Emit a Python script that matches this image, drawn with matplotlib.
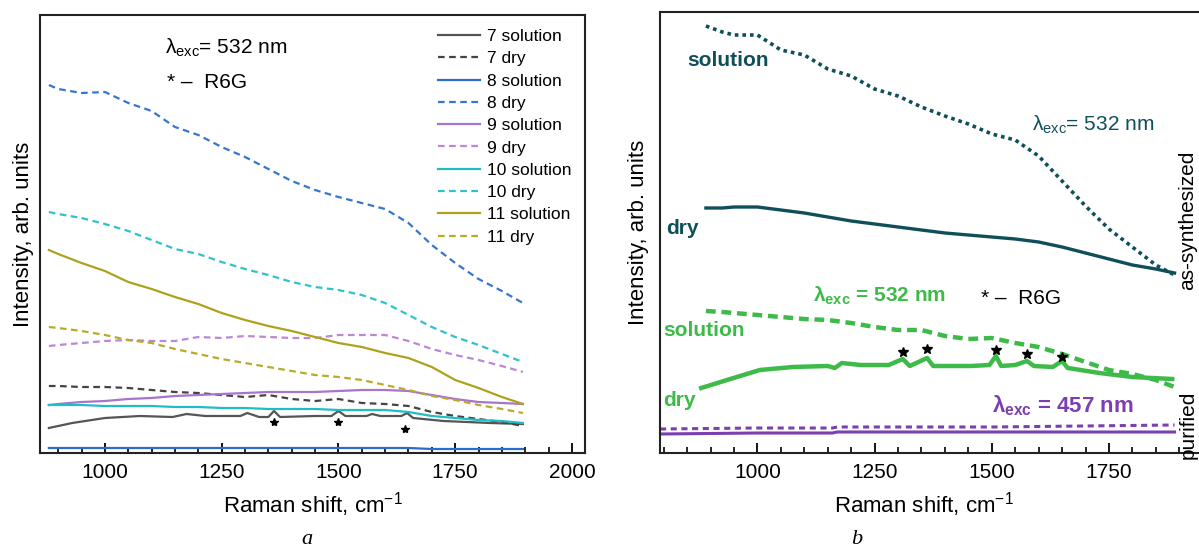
import numpy as np
import matplotlib
matplotlib.use("Agg")
import matplotlib.pyplot as plt
from matplotlib.ticker import MultipleLocator

plt.rcParams['font.family'] = ['Liberation Sans', 'DejaVu Sans']
plt.rcParams['mathtext.fontset'] = 'custom'
plt.rcParams['mathtext.rm'] = 'Liberation Sans'
plt.rcParams['mathtext.it'] = 'Liberation Sans:italic'
plt.rcParams['mathtext.bf'] = 'Liberation Sans:bold'

############################################################
# Panel a data (intensity in arbitrary units)
############################################################

shift_a = [880, 900, 950, 1000, 1050, 1100, 1150, 1200, 1250, 1300, 1350,
           1400, 1450, 1500, 1550, 1600, 1650, 1700, 1750, 1800, 1850, 1895]

dry_7 = [67, 67, 66, 66, 65, 63, 61, 60, 58, 56, 58,
         54, 52, 54, 50, 49, 47, 41, 37, 34, 31, 27]
sol_8 = [5, 5, 5, 5, 5, 5, 5, 5, 5, 5, 5,
         5, 5, 5, 5, 5, 5, 4, 4, 4, 4, 4]
dry_8 = [368, 364, 360, 361, 350, 342, 326, 318, 306, 296, 284,
         272, 263, 256, 250, 244, 230, 208, 190, 174, 162, 150]
sol_9 = [48, 49, 51, 52, 54, 55, 57, 58, 59, 60, 61,
         61, 61, 62, 63, 63, 62, 58, 54, 51, 50, 49]
dry_9 = [107, 108, 110, 112, 113, 112, 112, 116, 115, 117, 116,
         115, 115, 118, 118, 118, 112, 104, 98, 93, 87, 81]
sol_10 = [48, 48, 48, 47, 47, 47, 46, 46, 45, 45, 44,
          44, 44, 43, 43, 43, 41, 37, 35, 33, 32, 30]
dry_10 = [241, 239, 235, 229, 222, 213, 204, 199, 191, 184, 178,
          171, 166, 163, 158, 150, 138, 126, 116, 108, 99, 91]
sol_11 = [203, 199, 190, 182, 171, 164, 156, 149, 140, 133, 127,
          122, 116, 110, 106, 100, 95, 86, 73, 65, 56, 49]
dry_11 = [126, 125, 122, 118, 113, 110, 104, 99, 94, 90, 86,
          82, 78, 76, 73, 68, 63, 57, 53, 48, 44, 40]

# sample 7 in solution shows the R6G peaks
shift_7 = [880, 930, 1000, 1075, 1145, 1175, 1215, 1290, 1305, 1330, 1350, 1362, 1375,
           1450, 1485, 1500, 1515, 1560, 1572, 1590, 1635, 1647, 1660, 1725, 1825, 1895]
sol_7 = [25, 30, 35, 37, 36, 39, 37, 37, 40, 36, 36, 42, 36,
         37, 37, 42, 37, 37, 39, 37, 37, 40, 35, 32, 30, 29]

star_a_x = [1362, 1500, 1642]
star_a_y = [31, 31, 24]

############################################################
# Panel b data
############################################################

shift_b = [890, 925, 950, 1000, 1050, 1100, 1150, 1200, 1250, 1300, 1350,
           1400, 1450, 1500, 1550, 1600, 1650, 1700, 1750, 1800, 1850, 1890]

asyn_solution = [427, 421, 418, 418, 403, 398, 384, 377, 364, 357, 346,
                 337, 329, 319, 313, 297, 272, 247, 224, 206, 188, 178]
asyn_dry = [245, 245, 246, 246, 243, 240, 236, 232, 229, 226, 223,
            220, 218, 216, 214, 211, 206, 200, 194, 188, 184, 180]
pur_solution = [142, 141, 140, 138, 136, 134, 133, 130, 126, 123, 123,
                117, 114, 115, 110, 106, 99, 91, 83, 79, 73, 66]

shift_pur_dry = [880, 935, 1005, 1075, 1150, 1165, 1180, 1220, 1280, 1310, 1325, 1362, 1375,
                 1455, 1495, 1509, 1520, 1550, 1575, 1590, 1630, 1650, 1662, 1730, 1800, 1885]
pur_dry = [65, 73, 83, 86, 87, 85, 90, 88, 88, 94, 87, 95, 87,
           87, 88, 97, 87, 88, 92, 87, 86, 92, 85, 80, 76, 74]

shift_457 = [792, 1000, 1160, 1170, 1500, 1890]
sol_457 = [24, 25, 25, 26, 26, 28]
dry_457 = [19, 20, 20, 21, 21, 21]

star_b_x = [1310, 1362, 1509, 1575, 1650]
star_b_y = [101, 104, 103, 99, 96]

############################################################
# Plot
############################################################

fig = plt.figure(figsize=(11.99, 5.5), dpi=100)
ax1 = fig.add_axes([40 / 1199, 97 / 550, 545 / 1199, 438 / 550])
ax2 = fig.add_axes([660 / 1199, 97 / 550, 545 / 1199, 441 / 550])

dash = (0, (3, 2))
lw = 1.6
ax1.plot(shift_7, sol_7, color='#555555', lw=lw, label='7 solution')
ax1.plot(shift_a, dry_7, color='#444444', lw=lw, ls=dash, label='7 dry')
ax1.plot(shift_a, sol_8, color='#2b6dc9', lw=lw, label='8 solution')
ax1.plot(shift_a, dry_8, color='#3577d0', lw=lw, ls=dash, label='8 dry')
ax1.plot(shift_a, sol_9, color='#a874cc', lw=lw, label='9 solution')
ax1.plot(shift_a, dry_9, color='#bd86d6', lw=lw, ls=dash, label='9 dry')
ax1.plot(shift_a, sol_10, color='#22bcc4', lw=lw, label='10 solution')
ax1.plot(shift_a, dry_10, color='#2ec2cc', lw=lw, ls=dash, label='10 dry')
ax1.plot(shift_a, sol_11, color='#aea21c', lw=lw, label='11 solution')
ax1.plot(shift_a, dry_11, color='#b9aa2a', lw=lw, ls=dash, label='11 dry')
ax1.plot(star_a_x, star_a_y, ls='none', marker='*', ms=6, color='black')

ax1.legend(loc='upper left', bbox_to_anchor=(398 / 545, 0.968), frameon=False,
           fontsize=12.5, handlelength=2.4, handletextpad=0.4, labelspacing=0.41,
           borderpad=0, borderaxespad=0)

ax1.text(1129, 405, r'$\mathrm{λ_{exc}}$= 532 nm', fontsize=15, va='center')
ax1.text(1133, 371, '* \u2013  R6G', fontsize=15, va='center')

ax1.set_xlim(861, 2028)
ax1.set_ylim(0, 438)
ax1.xaxis.set_major_locator(MultipleLocator(250))
ax1.xaxis.set_minor_locator(MultipleLocator(50))
ax1.set_xlabel('Raman shift, cm$^{-1}$', fontsize=16, labelpad=6)
ax1.set_ylabel('Intensity, arb. units', fontsize=16, labelpad=4)

teal = '#0e4f5a'
green = '#3dba48'
purple = '#7b3fb0'

ax2.plot(shift_b, asyn_solution, color=teal, lw=2.6, ls=(0, (1, 1.1)))
ax2.plot(shift_b, asyn_dry, color=teal, lw=2.4)
ax2.plot(shift_b, pur_solution, color=green, lw=3.2, ls=(0, (2.2, 1.3)))
ax2.plot(shift_pur_dry, pur_dry, color=green, lw=3.2)
ax2.plot(shift_457, sol_457, color=purple, lw=2.2, ls=(0, (2, 1.5)))
ax2.plot(shift_457, dry_457, color=purple, lw=2.2)
ax2.plot(star_b_x, star_b_y, ls='none', marker='*', ms=7, color='black')

# texts of panel b placed by pixel column, converted to data units below
ax2.text(687, 393, 'solution', color=teal, fontsize=15, fontweight='bold', va='center')
ax2.text(1030, 328, r'$\mathrm{λ_{exc}}$= 532 nm', color=teal, fontsize=15, va='center')
ax2.text(666, 225, 'dry', color=teal, fontsize=15, fontweight='bold', va='center')
ax2.text(812, 157, r'$\mathbf{λ_{exc}}$ = 532 nm', color=green, fontsize=15,
         fontweight='bold', va='center')
ax2.text(979, 155, '* \u2013  R6G', color='black', fontsize=15, va='center')
ax2.text(663, 123, 'solution', color=green, fontsize=15, fontweight='bold', va='center')
ax2.text(663, 53, 'dry', color=green, fontsize=15, fontweight='bold', va='center')
ax2.text(990, 47, r'$\mathbf{λ_{exc}}$ = 457 nm', color=purple, fontsize=16,
         fontweight='bold', va='center')

for t in ax2.texts:
    px, h = t.get_position()
    t.set_position((1000 + (px - 757) * 2.146, h))

ax2.text(0.969, 233 / 441, 'as-synthesized', transform=ax2.transAxes, rotation=90,
         fontsize=15, va='center', ha='center')
ax2.text(0.969, 28 / 441, 'purified', transform=ax2.transAxes, rotation=90,
         fontsize=15, va='center', ha='center')

ax2.set_xlim(792, 1955)
ax2.set_ylim(0, 441)
ax2.xaxis.set_major_locator(MultipleLocator(250))
ax2.xaxis.set_minor_locator(MultipleLocator(50))
ax2.set_xlabel('Raman shift, cm$^{-1}$', fontsize=16, labelpad=6)
ax2.set_ylabel('Intensity, arb. units', fontsize=16, labelpad=8)

for ax in (ax1, ax2):
    ax.set_yticks([])
    ax.tick_params(axis='x', which='major', direction='in', length=7, width=1.3,
                   labelsize=15, pad=7)
    ax.tick_params(axis='x', which='minor', direction='in', length=4, width=1.2)
    for s in ax.spines.values():
        s.set_linewidth(1.5)
        s.set_color('#222222')

ax2.xaxis.label.set_x((924 - 660) / 545)

fig.text(307 / 1199, 10 / 550, 'a', fontsize=16, style='italic',
         family='Liberation Serif', ha='center', va='center')
fig.text(857 / 1199, 10 / 550, 'b', fontsize=16, style='italic',
         family='Liberation Serif', ha='center', va='center')

fig.savefig('out.png', dpi=100)
